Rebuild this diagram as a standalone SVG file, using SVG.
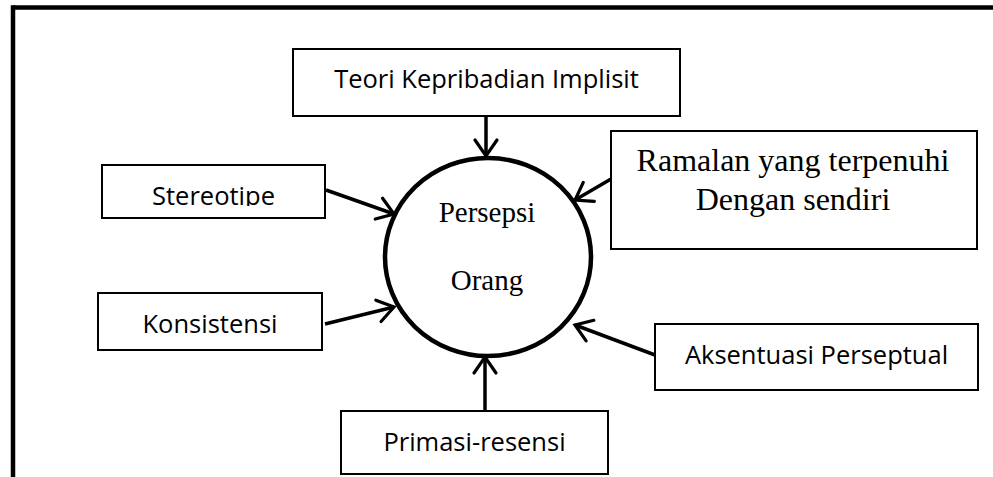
<svg xmlns="http://www.w3.org/2000/svg" width="993" height="477" viewBox="0 0 993 477">
  <defs>
    <marker id="arr" viewBox="0 0 20 26" refX="18" refY="13" markerWidth="20" markerHeight="26" markerUnits="userSpaceOnUse" orient="auto" overflow="visible">
      <path d="M2,2 L18,13 L2,24" fill="none" stroke="#000" stroke-width="3.2" stroke-linecap="round"/>
    </marker>
    <clipPath id="clipStereo">
      <rect x="102" y="166" width="223" height="40"/>
    </clipPath>
  </defs>
  <style>
    .box { fill: #fff; stroke: #000; stroke-width: 2; }
    .sans { font-family: "Open Sans", "Noto Sans", "Liberation Sans", sans-serif; font-size: 25.5px; fill: #000; text-anchor: middle; }
    .serif { font-family: "Liberation Serif", "Times New Roman", serif; fill: #000; text-anchor: middle; }
    .conn line { stroke: #000; stroke-width: 3.5; marker-end: url(#arr); }
  </style>
  <rect width="993" height="477" fill="#fff"/>
  <g id="frame">
    <line x1="13" y1="7.5" x2="993" y2="7.5" stroke="#000" stroke-width="4.5"/>
    <line x1="13" y1="5.25" x2="13" y2="477" stroke="#000" stroke-width="4.5"/>
  </g>
  <g id="center-node">
    <ellipse cx="488" cy="257" rx="103" ry="99" fill="#fff" stroke="#000" stroke-width="4.5"/>
    <text class="serif" x="487" y="222" font-size="29">Persepsi</text>
    <text class="serif" x="487" y="290" font-size="29">Orang</text>
  </g>
  <g id="node-teori">
    <rect class="box" x="293" y="49" width="387" height="67"/>
    <text class="sans" x="486.5" y="88">Teori Kepribadian Implisit</text>
  </g>
  <g id="node-stereotipe">
    <rect class="box" x="102" y="165" width="223" height="53"/>
    <text class="sans" x="213.5" y="205" clip-path="url(#clipStereo)">Stereotipe</text>
  </g>
  <g id="node-ramalan">
    <rect class="box" x="611" y="131" width="366" height="118"/>
    <text class="serif" x="793" y="171" font-size="32">Ramalan yang terpenuhi</text>
    <text class="serif" x="793" y="210" font-size="32">Dengan sendiri</text>
  </g>
  <g id="node-konsistensi">
    <rect class="box" x="98" y="293" width="224" height="57"/>
    <text class="sans" x="210" y="333">Konsistensi</text>
  </g>
  <g id="node-aksentuasi">
    <rect class="box" x="655" y="324" width="323" height="66"/>
    <text class="sans" x="816.5" y="364">Aksentuasi Perseptual</text>
  </g>
  <g id="node-primasi">
    <rect class="box" x="341" y="411" width="267" height="63"/>
    <text class="sans" x="474.5" y="451">Primasi-resensi</text>
  </g>
  <g id="connectors" class="conn">
    <line x1="486" y1="117" x2="486" y2="156"/>
    <line x1="326" y1="190" x2="394" y2="214"/>
    <line x1="611" y1="179" x2="575" y2="200"/>
    <line x1="325" y1="324" x2="394" y2="307"/>
    <line x1="485" y1="410" x2="485" y2="357"/>
    <line x1="655" y1="355" x2="575" y2="325"/>
  </g>
</svg>
